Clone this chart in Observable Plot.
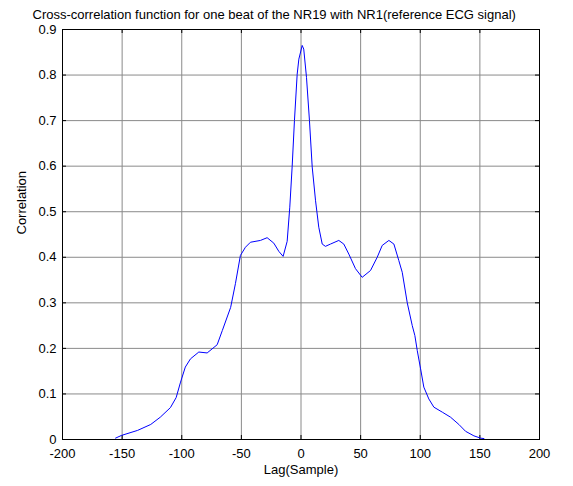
<!DOCTYPE html>
<html>
<head>
<meta charset="utf-8">
<script src="https://cdn.jsdelivr.net/npm/d3@7"></script>
<script src="https://cdn.jsdelivr.net/npm/@observablehq/plot@0.6"></script>
<style>
  html, body { margin: 0; padding: 0; background: #fff; }
</style>
</head>
<body>
<div id="chart"></div>
<script>
const titleText = "Cross-correlation function for one beat of the NR19 with NR1(reference ECG signal)";
const xLabel = "Lag(Sample)";
const yLabel = "Correlation";
const xTicks = [-200, -150, -100, -50, 0, 50, 100, 150, 200];
const yTicks = [0, 0.1, 0.2, 0.3, 0.4, 0.5, 0.6, 0.7, 0.8, 0.9];

const lags = [-155.5, -150.5, -137, -126, -118, -109.5, -104.7, -101, -97, -92.7, -85.7, -78.7, -70.3, -66, -59, -55, -50.8, -46.6, -42.4, -34, -28.4, -22.8, -18.6, -15, -11.6, -9.4, -7.4, -5.5, -3.2, -1.8, 1, 2.3, 4.6, 7.1, 9.4, 12.2, 14.9, 17.8, 20.5, 24.7, 31.7, 35.9, 40.1, 45.7, 51.3, 58.3, 63.9, 68.1, 73.7, 77.9, 82, 84.9, 89.1, 93.3, 95.5, 97.5, 100.3, 103, 107.2, 111.4, 118.5, 125.4, 132.4, 138, 145, 150.6, 153.4];
const corr = [0.003, 0.009, 0.02, 0.033, 0.049, 0.07, 0.092, 0.126, 0.159, 0.177, 0.192, 0.19, 0.208, 0.239, 0.29, 0.342, 0.404, 0.422, 0.433, 0.437, 0.443, 0.431, 0.413, 0.402, 0.435, 0.51, 0.60, 0.70, 0.802, 0.835, 0.865, 0.857, 0.795, 0.70, 0.598, 0.524, 0.466, 0.429, 0.424, 0.429, 0.437, 0.429, 0.407, 0.375, 0.356, 0.371, 0.40, 0.426, 0.437, 0.429, 0.393, 0.367, 0.30, 0.25, 0.228, 0.195, 0.155, 0.115, 0.089, 0.071, 0.06, 0.049, 0.033, 0.018, 0.008, 0.003, 0.002];

const data = lags.map((x, i) => ({x, y: corr[i]}));

const W = 573, H = 486;
const mL = 62, mR = 34, mT = 29, mB = 47;
const innerW = W - mL - mR, innerH = H - mT - mB;
const tickLen = 4;
const font = "'Liberation Sans', Arial, Helvetica, sans-serif";

const chart = Plot.plot({
  width: W,
  height: H,
  marginLeft: mL,
  marginRight: mR,
  marginTop: mT,
  marginBottom: mB,
  style: {fontFamily: font, fontSize: "13px", background: "#fff", color: "#000", overflow: "visible"},
  x: {domain: [-200, 200]},
  y: {domain: [0, 0.9]},
  marks: [
    Plot.gridX(xTicks, {stroke: "#8a8a8a", strokeOpacity: 1}),
    Plot.gridY(yTicks, {stroke: "#8a8a8a", strokeOpacity: 1}),
    Plot.ruleX(xTicks, {x: d => d, insetTop: innerH - tickLen, stroke: "#000"}),
    Plot.ruleX(xTicks, {x: d => d, insetBottom: innerH - tickLen, stroke: "#000"}),
    Plot.ruleY(yTicks, {y: d => d, insetRight: innerW - tickLen, stroke: "#000"}),
    Plot.ruleY(yTicks, {y: d => d, insetLeft: innerW - tickLen, stroke: "#000"}),
    Plot.line(data, {x: "x", y: "y", stroke: "#0000ff", strokeWidth: 1}),
    Plot.frame({stroke: "#000"}),
    Plot.axisX(xTicks, {tickSize: 0, tickPadding: 9, label: null, fontSize: 13, tickFormat: d => String(d)}),
    Plot.axisY(yTicks, {tickSize: 0, tickPadding: 6, label: null, fontSize: 13, tickFormat: d => d === 0 ? "0" : d.toFixed(1)}),
    Plot.text([xLabel], {text: d => d, frameAnchor: "bottom", dy: 34, fontSize: 13}),
    Plot.text([yLabel], {text: d => d, frameAnchor: "left", dx: -41, rotate: -90, fontSize: 13}),
    Plot.text([titleText], {text: d => d, frameAnchor: "top-left", dx: -30, dy: -20, textAnchor: "start", fontSize: 13})
  ]
});
document.getElementById("chart").appendChild(chart);
</script>
</body>
</html>
